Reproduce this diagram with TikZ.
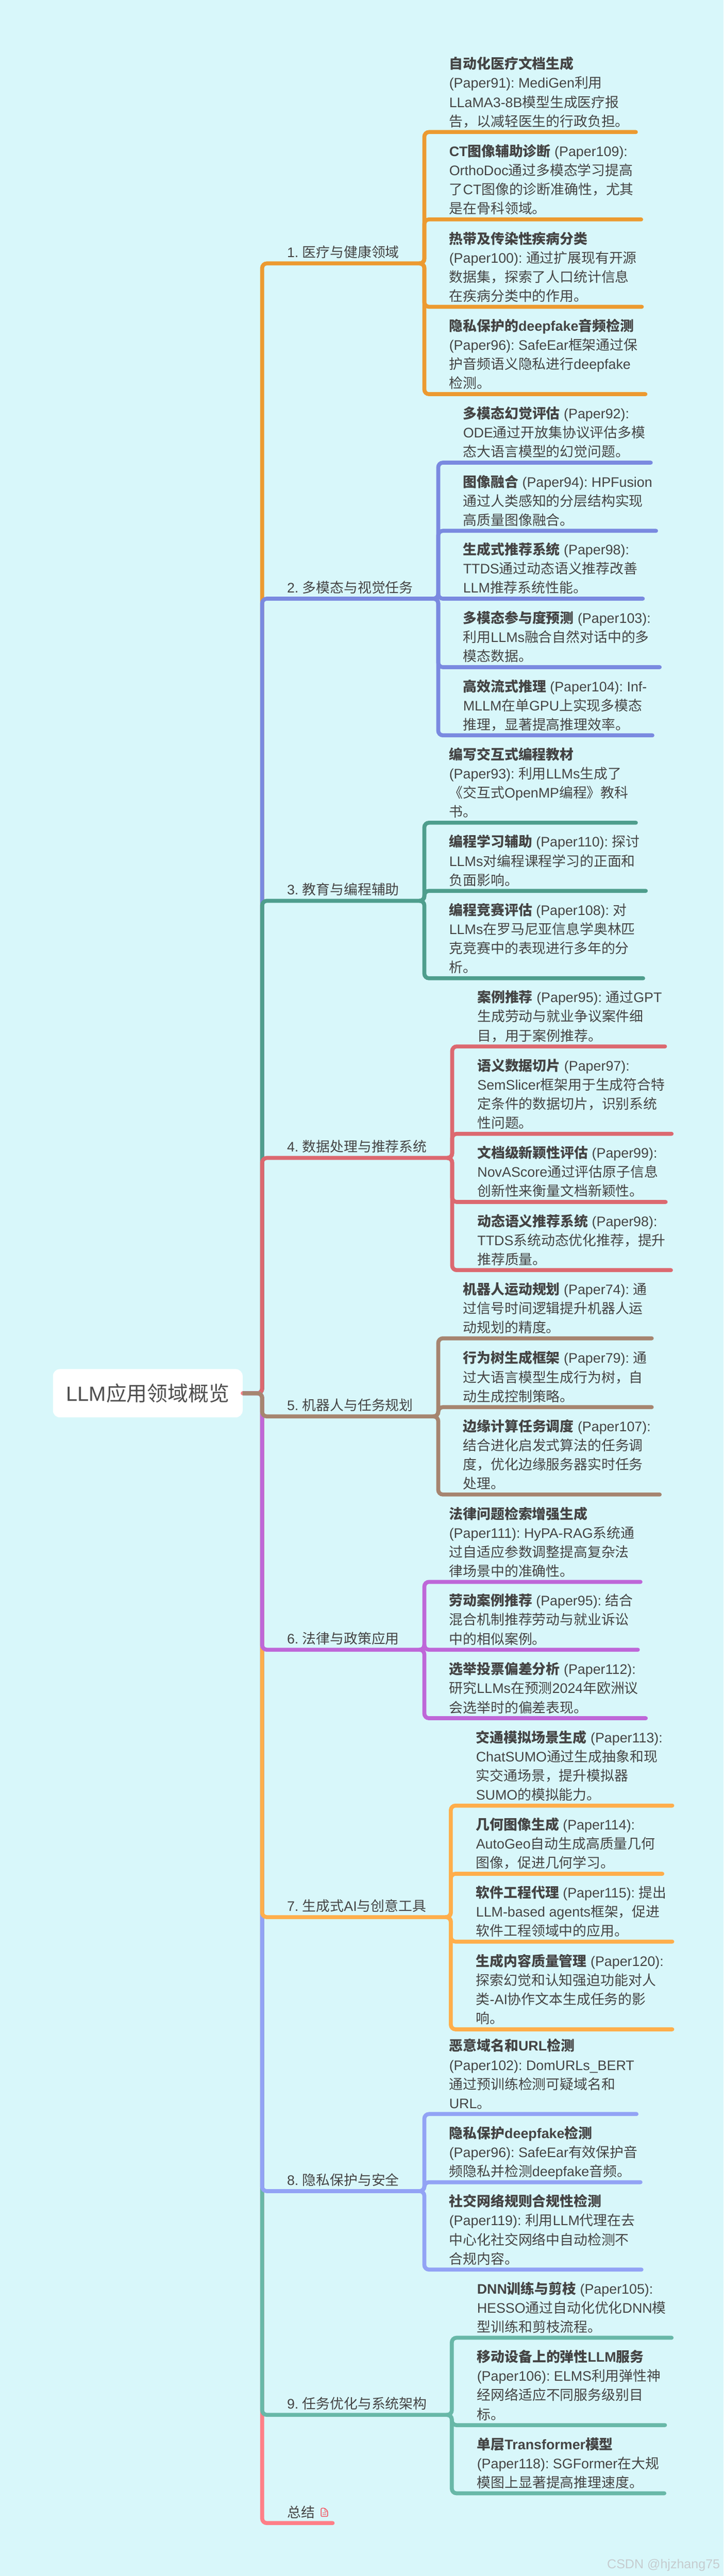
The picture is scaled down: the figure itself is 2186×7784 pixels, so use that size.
\documentclass[tikz,border=0pt]{standalone}
\usepackage{fontspec}
\setmainfont{Liberation Sans}
\newfontfamily\latf{Liberation Sans}
\newfontfamily\cjkf{Noto Sans CJK SC}
% automatic switch between Latin and CJK fonts
\XeTeXinterchartokenstate=1
\chardef\mycjk=10
\newcount\cc
\cc="3000 \loop\ifnum\cc<"3040 \XeTeXcharclass\cc=\mycjk \advance\cc by 1 \repeat
\cc="4E00 \loop\ifnum\cc<"A000 \XeTeXcharclass\cc=\mycjk \advance\cc by 1 \repeat
\cc="FF00 \loop\ifnum\cc<"FFF0 \XeTeXcharclass\cc=\mycjk \advance\cc by 1 \repeat
\XeTeXinterchartoks 0 \mycjk={\cjkf}
\XeTeXinterchartoks 4095 \mycjk={\cjkf}
\XeTeXinterchartoks \mycjk 0={\latf}
\XeTeXinterchartoks \mycjk 4095={\latf}
\definecolor{bgc}{HTML}{D8F7FA}
\definecolor{ink}{HTML}{444444}
\definecolor{rootink}{HTML}{4E4E4E}
\definecolor{c1}{HTML}{EC9A30}
\definecolor{c2}{HTML}{7A8AE0}
\definecolor{c3}{HTML}{4E9E8D}
\definecolor{c4}{HTML}{DC6970}
\definecolor{c5}{HTML}{A68570}
\definecolor{c6}{HTML}{BE67D8}
\definecolor{c7}{HTML}{FFAE4B}
\definecolor{c8}{HTML}{92A3F5}
\definecolor{c9}{HTML}{68B8A8}
\definecolor{c10}{HTML}{FF7F87}
\definecolor{iconc}{HTML}{F5525F}
\definecolor{wm}{HTML}{C6CCCF}
\tikzset{
  mainline/.style={line width=12pt,rounded corners=14pt,line cap=butt},
  subline/.style={line width=12pt,rounded corners=14pt,line cap=round},
  leaf/.style={anchor=south west,inner sep=0pt,align=left,text depth=0pt,text=ink,
    font=\fontsize{41.8}{57.8}\selectfont\frenchspacing},
  lab/.style={anchor=south west,inner sep=0pt,text depth=0pt,text=ink,
    font=\fontsize{41.8}{57.8}\selectfont\frenchspacing},
  rootbox/.style={rectangle,rounded corners=21pt,fill=white,inner sep=0pt,
    minimum width=573pt,minimum height=146pt,text=rootink,
    font=\fontsize{62}{70}\selectfont},
}
\newcommand{\Group}[6]{% name, colour, label, branch y, trunk x, leaf x
  \def\gcol{#2}\def\trunkx{#5}\def\leafx{#6}\def\joint{#1j}
  \coordinate (#1t) at (792,#4);
  \coordinate (#1j) at ({#5-14},#4);
  \draw[mainline,#2] (root.east) -| (#1t) -- (#1j);
  \node[lab] (#1l) at (867,{#4-18}) {#3};
}
\newcommand{\Leaf}[4]{% name, underline y, underline end x, text
  \node[leaf] (#1) at (\leafx,{#2-17}) {#4};
  \coordinate (#1e) at (#3,#2);
  \draw[subline,\gcol] (\joint) -| (\trunkx,#2) -- (#1e);
}
\newcommand{\B}[1]{{\bfseries #1}}
\begin{document}
\begin{tikzpicture}[x=1pt,y=-1pt]
\useasboundingbox (0,0) rectangle (2186,7784);
\fill[bgc] (0,0) rectangle (2186,7784);
\node[rootbox] (root) at (446.5,4210) {LLM应用领域概览};

\Group{a}{c1}{1. 医疗与健康领域}{796}{1282}{1357}
\Leaf{a1}{399}{1921}{\B{自动化医疗文档生成}\\(Paper91): MediGen利用\\LLaMA3-8B模型生成医疗报\\告，以减轻医生的行政负担。}
\Leaf{a2}{663}{1937}{\B{CT图像辅助诊断} (Paper109):\\OrthoDoc通过多模态学习提高\\了CT图像的诊断准确性，尤其\\是在骨科领域。}
\Leaf{a3}{927}{1939}{\B{热带及传染性疾病分类}\\(Paper100): 通过扩展现有开源\\数据集，探索了人口统计信息\\在疾病分类中的作用。}
\Leaf{a4}{1191}{1950}{\B{隐私保护的deepfake音频检测}\\(Paper96): SafeEar框架通过保\\护音频语义隐私进行deepfake\\检测。}

\Group{b}{c2}{2. 多模态与视觉任务}{1809}{1324}{1399}
\Leaf{b1}{1398}{1966}{\B{多模态幻觉评估} (Paper92):\\ODE通过开放集协议评估多模\\态大语言模型的幻觉问题。}
\Leaf{b2}{1604}{1982}{\B{图像融合} (Paper94): HPFusion\\通过人类感知的分层结构实现\\高质量图像融合。}
\Leaf{b3}{1809}{1942}{\B{生成式推荐系统} (Paper98):\\TTDS通过动态语义推荐改善\\LLM推荐系统性能。}
\Leaf{b4}{2016}{1993}{\B{多模态参与度预测} (Paper103):\\利用LLMs融合自然对话中的多\\模态数据。}
\Leaf{b5}{2222}{1971}{\B{高效流式推理} (Paper104): Inf-\\MLLM在单GPU上实现多模态\\推理，显著提高推理效率。}

\Group{c}{c3}{3. 教育与编程辅助}{2722}{1282}{1357}
\Leaf{c1}{2486}{1921}{\B{编写交互式编程教材}\\(Paper93): 利用LLMs生成了\\《交互式OpenMP编程》教科\\书。}
\Leaf{c2}{2692}{1951}{\B{编程学习辅助} (Paper110): 探讨\\LLMs对编程课程学习的正面和\\负面影响。}
\Leaf{c3}{2956}{1943}{\B{编程竞赛评估} (Paper108): 对\\LLMs在罗马尼亚信息学奥林匹\\克竞赛中的表现进行多年的分\\析。}

\Group{d}{c4}{4. 数据处理与推荐系统}{3499}{1366}{1442}
\Leaf{d1}{3162}{2009}{\B{案例推荐} (Paper95): 通过GPT\\生成劳动与就业争议案件细\\目，用于案例推荐。}
\Leaf{d2}{3426}{2029}{\B{语义数据切片} (Paper97):\\SemSlicer框架用于生成符合特\\定条件的数据切片，识别系统\\性问题。}
\Leaf{d3}{3632}{2011}{\B{文档级新颖性评估} (Paper99):\\NovAScore通过评估原子信息\\创新性来衡量文档新颖性。}
\Leaf{d4}{3838}{2027}{\B{动态语义推荐系统} (Paper98):\\TTDS系统动态优化推荐，提升\\推荐质量。}

% summary branch
\coordinate (st) at (792,7624);
\coordinate (se) at (1005,7624);
\draw[mainline,c10,line cap=round] (root.east) -| (st) -- (se);
\node[lab] (sl) at (868,7607) {总结};
\draw[iconc,line width=2.2pt,line join=round,rounded corners=2.5pt]
  (970,7579) -- (981,7579) -- (990,7588) -- (990,7604) -- (970,7604) -- cycle;
\draw[iconc,line width=2pt] (981,7579) -- (981,7588) -- (990,7588);
\draw[iconc,line width=2pt] (974,7593) -- (985,7593) (974,7598) -- (985,7598);

\Group{i}{c9}{9. 任务优化与系统架构}{7297}{1365}{1441}
\Leaf{i1}{7064}{2029}{\B{DNN训练与剪枝} (Paper105):\\HESSO通过自动化优化DNN模\\型训练和剪枝流程。}
\Leaf{i2}{7328}{2009}{\B{移动设备上的弹性LLM服务}\\(Paper106): ELMS利用弹性神\\经网络适应不同服务级别目\\标。}
\Leaf{i3}{7534}{2007}{\B{单层Transformer模型}\\(Paper118): SGFormer在大规\\模图上显著提高推理速度。}

\Group{h}{c8}{8. 隐私保护与安全}{6621}{1282}{1357}
\Leaf{h1}{6388}{1923}{\B{恶意域名和URL检测}\\(Paper102): DomURLs\_BERT\\通过预训练检测可疑域名和\\URL。}
\Leaf{h2}{6594}{1935}{\B{隐私保护deepfake检测}\\(Paper96): SafeEar有效保护音\\频隐私并检测deepfake音频。}
\Leaf{h3}{6858}{1938}{\B{社交网络规则合规性检测}\\(Paper119): 利用LLM代理在去\\中心化社交网络中自动检测不\\合规内容。}

\Group{g}{c7}{7. 生成式AI与创意工具}{5793}{1362}{1438}
\Leaf{g1}{5456}{2031}{\B{交通模拟场景生成} (Paper113):\\ChatSUMO通过生成抽象和现\\实交通场景，提升模拟器\\SUMO的模拟能力。}
\Leaf{g2}{5662}{2001}{\B{几何图像生成} (Paper114):\\AutoGeo自动生成高质量几何\\图像，促进几何学习。}
\Leaf{g3}{5867}{2031}{\B{软件工程代理} (Paper115): 提出\\LLM-based agents框架，促进\\软件工程领域中的应用。}
\Leaf{g4}{6132}{2031}{\B{生成内容质量管理} (Paper120):\\探索幻觉和认知强迫功能对人\\类-AI协作文本生成任务的影\\响。}

\Group{f}{c6}{6. 法律与政策应用}{4985}{1282}{1357}
\Leaf{f1}{4780}{1935}{\B{法律问题检索增强生成}\\(Paper111): HyPA-RAG系统通\\过自适应参数调整提高复杂法\\律场景中的准确性。}
\Leaf{f2}{4985}{1927}{\B{劳动案例推荐} (Paper95): 结合\\混合机制推荐劳动与就业诉讼\\中的相似案例。}
\Leaf{f3}{5192}{1951}{\B{选举投票偏差分析} (Paper112):\\研究LLMs在预测2024年欧洲议\\会选举时的偏差表现。}

\Group{e}{c5}{5. 机器人与任务规划}{4280}{1324}{1399}
\Leaf{e1}{4044}{1969}{\B{机器人运动规划} (Paper74): 通\\过信号时间逻辑提升机器人运\\动规划的精度。}
\Leaf{e2}{4252}{1969}{\B{行为树生成框架} (Paper79): 通\\过大语言模型生成行为树，自\\动生成控制策略。}
\Leaf{e3}{4516}{1993}{\B{边缘计算任务调度} (Paper107):\\结合进化启发式算法的任务调\\度，优化边缘服务器实时任务\\处理。}

\node[anchor=base west,inner sep=0pt,text=wm,font=\fontsize{39}{44}\selectfont] (wmark) at (1834,7761) {CSDN @hjzhang75};
\end{tikzpicture}
\end{document}
